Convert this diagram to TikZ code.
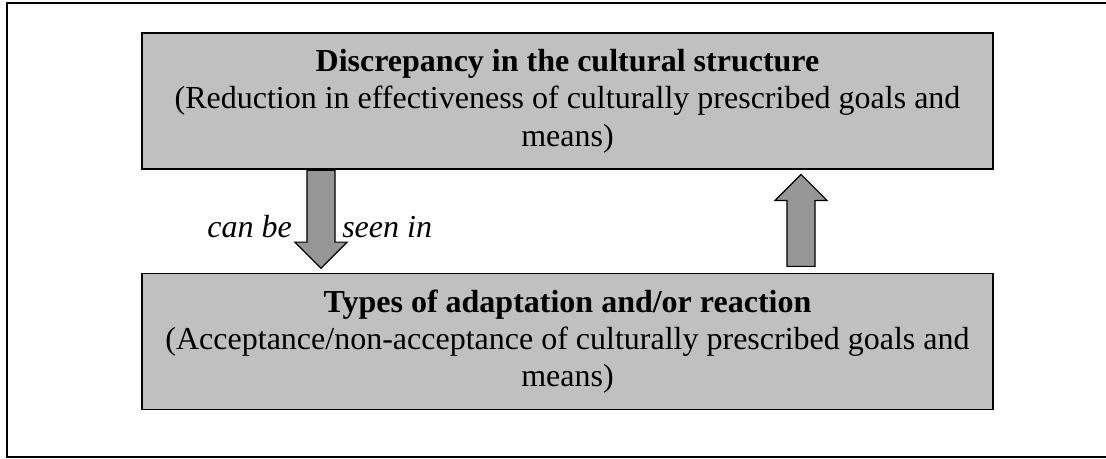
\documentclass[tikz,border=0pt]{standalone}
\usepackage{fontspec}
\setmainfont{Liberation Serif}
\usetikzlibrary{shapes.arrows}
\definecolor{boxgray}{HTML}{C0C0C0}
\definecolor{arrowgray}{HTML}{969696}

\begin{document}
\begin{tikzpicture}[x=0.75pt,y=-0.75pt,
  main box/.style={draw,fill=boxgray,line width=0.9pt,minimum width=638.25pt,
    minimum height=102pt,inner sep=0pt,align=center,
    font=\fontsize{24}{28}\selectfont},
  block arrow/.style={single arrow,draw,fill=arrowgray,line width=0.9pt,
    inner xsep=0pt,inner ysep=10.1pt,minimum width=38.25pt,
    single arrow head extend=9pt,anchor=tail},
  arrow label/.style={font=\fontsize{24}{28}\selectfont\itshape,inner sep=0pt}]

  \useasboundingbox (0,0) rectangle (1106,459);
  \draw[line width=1.3pt] (7,3) rectangle (1130,457);

  \node[main box] (disc) at (567.5,101)
    {\textbf{Discrepancy in the cultural structure}\\
     (Reduction in effectiveness of culturally prescribed goals and\\
     means)};
  \node[main box] (types) at (567.5,341.5)
    {\textbf{Types of adaptation and/or reaction}\\
     (Acceptance/non-acceptance of culturally prescribed goals and\\
     means)};

  \node[block arrow,rotate=-90,minimum height=73.5pt] (down)
    at (disc.south -| 321,0) {};
  \node[block arrow,rotate=90,minimum height=69pt] (up)
    at (801,267) {};

  \node[arrow label,anchor=base east] (canbe) at (292,238) {can be};
  \node[arrow label,anchor=base west] (seenin) at (342,238) {seen in};
\end{tikzpicture}
\end{document}
